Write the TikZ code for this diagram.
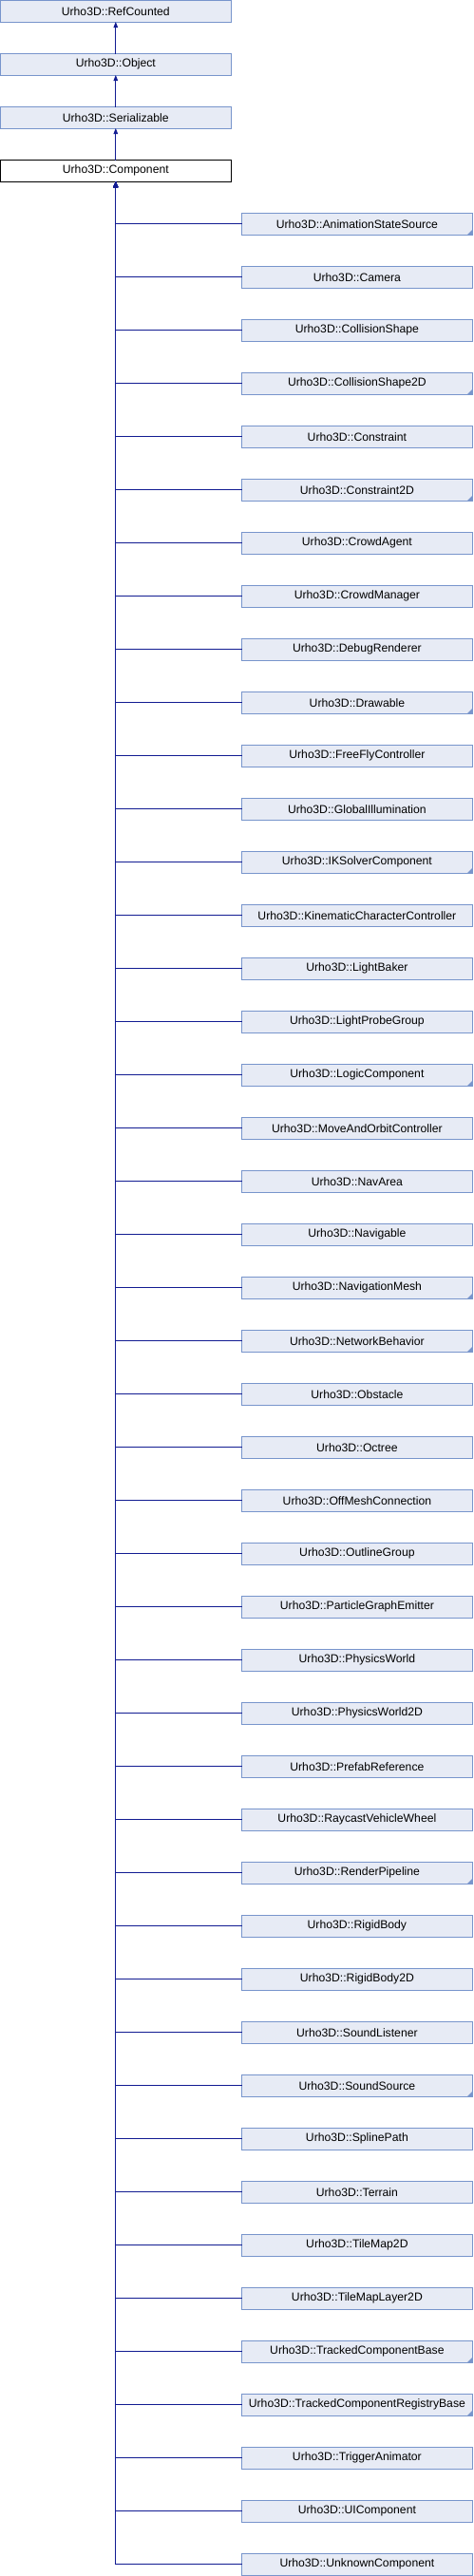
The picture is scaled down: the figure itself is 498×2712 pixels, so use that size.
\documentclass[tikz,border=0pt]{standalone}
\usepackage{fontspec}
\setmainfont{Liberation Sans}
\usepackage{xcolor}
\usepackage{tikz}
\usetikzlibrary{arrows.meta,positioning}

\definecolor{boxfill}{RGB}{231,235,245}
\definecolor{boxline}{RGB}{120,149,204}
\definecolor{edgecol}{RGB}{18,28,146}

\begin{document}
\begin{tikzpicture}[
  x=1pt,y=1pt,
  cls/.style={rectangle,draw=boxline,fill=boxfill,line width=0.8pt,outer sep=0pt,minimum width=242.5pt,minimum height=22.5pt,inner sep=2pt,font=\fontsize{12.2pt}{14pt}\selectfont},
  sub/.style={cls,below=33.5pt of #1},
  more/.style={path picture={\fill[boxline] (path picture bounding box.south east) -- ++(-5pt,0) -- ++(5pt,5pt) -- cycle;}},
  arr/.style={-{Triangle[width=4.5pt,length=6pt]},draw=edgecol,line width=0.9pt}
]
\useasboundingbox (0,0) rectangle (498,-2712);
\node[cls] (ref) at (121.8,-11.75) {Urho3D::RefCounted};
\node[sub=ref] (obj) {Urho3D::Object};
\node[sub=obj] (ser) {Urho3D::Serializable};
\node[sub=ser, draw=black, fill=white] (comp) {Urho3D::Component};
\draw[arr] (obj) -- (ref);
\draw[arr] (ser) -- (obj);
\draw[arr] (comp) -- (ser);

% derived classes
\node[cls, more] (anim) at (375.9,-235.75) {Urho3D::AnimationStateSource};
\node[sub=anim] (camera) {Urho3D::Camera};
\node[sub=camera] (colshape) {Urho3D::CollisionShape};
\node[sub=colshape, more] (colshape2d) {Urho3D::CollisionShape2D};
\node[sub=colshape2d] (constraint) {Urho3D::Constraint};
\node[sub=constraint, more] (constraint2d) {Urho3D::Constraint2D};
\node[sub=constraint2d] (crowdagent) {Urho3D::CrowdAgent};
\node[sub=crowdagent] (crowdmgr) {Urho3D::CrowdManager};
\node[sub=crowdmgr] (debugrend) {Urho3D::DebugRenderer};
\node[sub=debugrend, more] (drawable) {Urho3D::Drawable};
\node[sub=drawable] (freefly) {Urho3D::FreeFlyController};
\node[sub=freefly] (globalillum) {Urho3D::GlobalIllumination};
\node[sub=globalillum, more] (iksolver) {Urho3D::IKSolverComponent};
\node[sub=iksolver] (kinchar) {Urho3D::KinematicCharacterController};
\node[sub=kinchar] (lightbaker) {Urho3D::LightBaker};
\node[sub=lightbaker] (lightprobe) {Urho3D::LightProbeGroup};
\node[sub=lightprobe, more] (logic) {Urho3D::LogicComponent};
\node[sub=logic] (moveorbit) {Urho3D::MoveAndOrbitController};
\node[sub=moveorbit] (navarea) {Urho3D::NavArea};
\node[sub=navarea] (navigable) {Urho3D::Navigable};
\node[sub=navigable, more] (navmesh) {Urho3D::NavigationMesh};
\node[sub=navmesh, more] (netbehavior) {Urho3D::NetworkBehavior};
\node[sub=netbehavior] (obstacle) {Urho3D::Obstacle};
\node[sub=obstacle] (octree) {Urho3D::Octree};
\node[sub=octree] (offmesh) {Urho3D::OffMeshConnection};
\node[sub=offmesh] (outline) {Urho3D::OutlineGroup};
\node[sub=outline] (particle) {Urho3D::ParticleGraphEmitter};
\node[sub=particle] (physworld) {Urho3D::PhysicsWorld};
\node[sub=physworld] (physworld2d) {Urho3D::PhysicsWorld2D};
\node[sub=physworld2d] (prefab) {Urho3D::PrefabReference};
\node[sub=prefab] (raywheel) {Urho3D::RaycastVehicleWheel};
\node[sub=raywheel, more] (renderpipe) {Urho3D::RenderPipeline};
\node[sub=renderpipe] (rigidbody) {Urho3D::RigidBody};
\node[sub=rigidbody] (rigidbody2d) {Urho3D::RigidBody2D};
\node[sub=rigidbody2d] (soundlistener) {Urho3D::SoundListener};
\node[sub=soundlistener, more] (soundsource) {Urho3D::SoundSource};
\node[sub=soundsource] (spline) {Urho3D::SplinePath};
\node[sub=spline] (terrain) {Urho3D::Terrain};
\node[sub=terrain] (tilemap) {Urho3D::TileMap2D};
\node[sub=tilemap] (tilelayer) {Urho3D::TileMapLayer2D};
\node[sub=tilelayer, more] (trackedbase) {Urho3D::TrackedComponentBase};
\node[sub=trackedbase, more] (trackedreg) {Urho3D::TrackedComponentRegistryBase};
\node[sub=trackedreg] (trigger) {Urho3D::TriggerAnimator};
\node[sub=trigger] (uicomp) {Urho3D::UIComponent};
\node[sub=uicomp] (unknown) {Urho3D::UnknownComponent};

\foreach \n in {anim,camera,colshape,colshape2d,constraint,constraint2d,crowdagent,crowdmgr,
  debugrend,drawable,freefly,globalillum,iksolver,kinchar,lightbaker,lightprobe,logic,moveorbit,
  navarea,navigable,navmesh,netbehavior,obstacle,octree,offmesh,outline,particle,physworld,
  physworld2d,prefab,raywheel,renderpipe,rigidbody,rigidbody2d,soundlistener,soundsource,spline,
  terrain,tilemap,tilelayer,trackedbase,trackedreg,trigger,uicomp,unknown}
  \draw[arr] (\n) -| (comp);
\end{tikzpicture}
\end{document}
